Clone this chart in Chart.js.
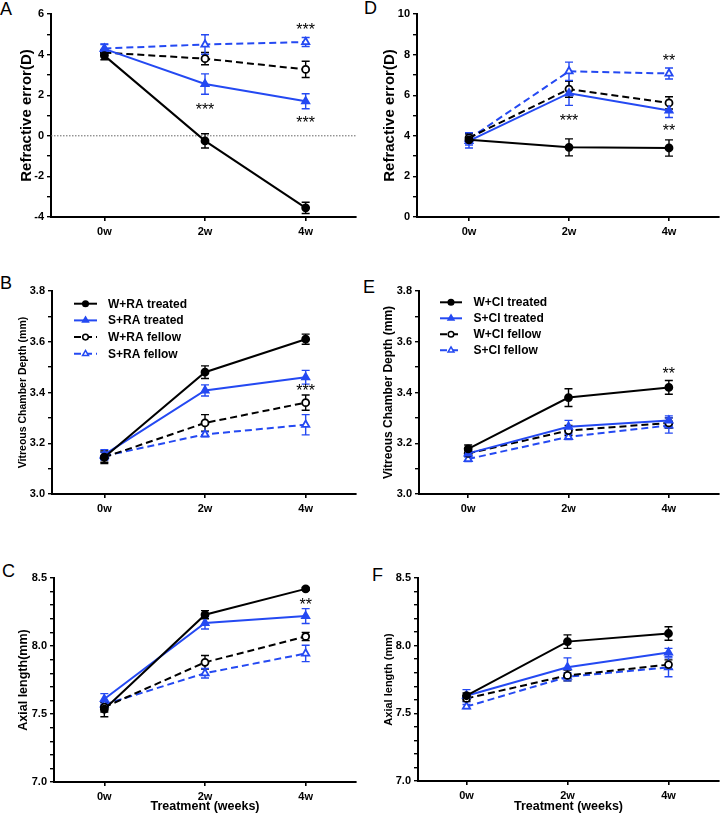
<!DOCTYPE html>
<html lang="en">
<head>
<meta charset="UTF-8" />
<title>Refraction and ocular biometry - RA / CI groups</title>
<script src="https://cdn.jsdelivr.net/npm/chart.js@4"></script>
<style>
    html, body { margin: 0; padding: 0; background: #fff; }
    body { width: 725px; height: 813px; position: relative; overflow: hidden;
           font-family: "Liberation Sans", Arial, sans-serif; }
    .panel { position: absolute; }
    .letter { position: absolute; font-size: 18px; line-height: 18px; color: #000; }
</style>
</head>
<body>
<!-- panel letters -->
<div class="letter" style="left:0px;top:0px">A</div>
<div class="letter" style="left:0px;top:274px">B</div>
<div class="letter" style="left:2px;top:562px">C</div>
<div class="letter" style="left:364px;top:-1px">D</div>
<div class="letter" style="left:363px;top:278px">E</div>
<div class="letter" style="left:372px;top:566px">F</div>

<div class="panel" style="left:0;top:0;width:362px;height:255px"><canvas id="chartA"></canvas></div>
<div class="panel" style="left:362px;top:0;width:363px;height:255px"><canvas id="chartD"></canvas></div>
<div class="panel" style="left:0;top:255px;width:362px;height:270px"><canvas id="chartB"></canvas></div>
<div class="panel" style="left:362px;top:255px;width:363px;height:270px"><canvas id="chartE"></canvas></div>
<div class="panel" style="left:0;top:525px;width:362px;height:288px"><canvas id="chartC"></canvas></div>
<div class="panel" style="left:362px;top:525px;width:363px;height:288px"><canvas id="chartF"></canvas></div>

<script>
    const weeks = ['0w', '2w', '4w'];
    const groupsRA = ['W+RA treated', 'S+RA treated', 'W+RA fellow', 'S+RA fellow'];
    const groupsCI = ['W+CI treated', 'S+CI treated', 'W+CI fellow', 'S+CI fellow'];

    // rows follow the group order: W treated, S treated, W fellow, S fellow
    // A - refractive error (D), RA
    const refractionRA = [
        [3.95, -0.25, -3.55],
        [4.28, 2.55, 1.70],
        [4.10, 3.80, 3.27],
        [4.30, 4.50, 4.62]
    ];
    const refractionRASem = [
        [0.20, 0.35, 0.28],
        [0.25, 0.50, 0.37],
        [0.15, 0.30, 0.40],
        [0.20, 0.48, 0.22]
    ];

    // D - refractive error (D), CI
    const refractionCI = [
        [3.80, 3.43, 3.40],
        [3.75, 6.10, 5.25],
        [3.90, 6.30, 5.62],
        [3.85, 7.18, 7.07]
    ];
    const refractionCISem = [
        [0.15, 0.42, 0.40],
        [0.35, 0.60, 0.35],
        [0.20, 0.40, 0.30],
        [0.30, 0.45, 0.27]
    ];

    // B - vitreous chamber depth (mm), RA
    const vcdRA = [
        [3.145, 3.480, 3.610],
        [3.155, 3.408, 3.460],
        [3.145, 3.280, 3.360],
        [3.150, 3.235, 3.273]
    ];
    const vcdRASem = [
        [0.020, 0.025, 0.020],
        [0.020, 0.022, 0.027],
        [0.025, 0.033, 0.030],
        [0.015, 0.010, 0.040]
    ];

    // E - vitreous chamber depth (mm), CI
    const vcdCI = [
        [3.178, 3.380, 3.420],
        [3.160, 3.265, 3.290],
        [3.160, 3.250, 3.280],
        [3.138, 3.225, 3.270]
    ];
    const vcdCISem = [
        [0.015, 0.035, 0.027],
        [0.012, 0.025, 0.018],
        [0.012, 0.020, 0.020],
        [0.010, 0.010, 0.030]
    ];

    // C - axial length (mm), RA
    const axialRA = [
        [7.535, 8.230, 8.420],
        [7.610, 8.170, 8.220],
        [7.550, 7.880, 8.070],
        [7.570, 7.800, 7.945]
    ];
    const axialRASem = [
        [0.055, 0.030, 0.010],
        [0.040, 0.045, 0.055],
        [0.035, 0.050, 0.030],
        [0.020, 0.035, 0.060]
    ];

    // F - axial length (mm), CI
    const axialCI = [
        [7.630, 8.030, 8.090],
        [7.630, 7.840, 7.950],
        [7.610, 7.780, 7.860],
        [7.550, 7.770, 7.840]
    ];
    const axialCISem = [
        [0.020, 0.050, 0.050],
        [0.045, 0.070, 0.030],
        [0.020, 0.040, 0.035],
        [0.015, 0.030, 0.070]
    ];

    // significance marks: [week index, value, mark]
    const starsRefractionRA = [[2, 5.43, '***'], [1, 1.49, '***'], [2, 0.84, '***']];
    const starsRefractionCI = [[2, 7.88, '**'], [1, 4.94, '***'], [2, 4.41, '**']];
    const starsVcdRA = [[2, 3.42, '***']];
    const starsVcdCI = [[2, 3.49, '**']];
    const starsAxialRA = [[2, 8.33, '**']];

    const BLACK = '#000000';
    const BLUE = '#2449f2';
    const FONT = '"Liberation Sans", Arial, sans-serif';

    const styles = [
        { color: BLACK, dash: [], point: 'circle', fill: BLACK, r: 3.5 },
        { color: BLUE, dash: [], point: 'triangle', fill: BLUE, r: 4.2 },
        { color: BLACK, dash: [7, 4], point: 'circle', fill: '#ffffff', r: 3.5 },
        { color: BLUE, dash: [7, 4], point: 'triangle', fill: '#ffffff', r: 4.2 }
    ];

    function drawMarker(ctx, st, x, y, r) {
        ctx.save();
        ctx.setLineDash([]);
        ctx.fillStyle = st.fill;
        ctx.strokeStyle = st.color;
        ctx.lineWidth = 1.5;
        ctx.beginPath();
        if (st.point === 'circle') {
            ctx.arc(x, y, r, 0, Math.PI * 2);
        } else {
            ctx.moveTo(x, y - r);
            ctx.lineTo(x + r * 0.87, y + r * 0.5);
            ctx.lineTo(x - r * 0.87, y + r * 0.5);
            ctx.closePath();
        }
        ctx.fill();
        ctx.stroke();
        ctx.restore();
    }

    // SEM error bars, drawn under the markers
    const errorBars = {
        id: 'errorBars',
        beforeDatasetsDraw(chart) {
            const ctx = chart.ctx;
            const ys = chart.scales.y;
            chart.data.datasets.forEach((ds, i) => {
                const meta = chart.getDatasetMeta(i);
                ctx.save();
                ctx.strokeStyle = ds.borderColor;
                ctx.lineWidth = 1.4;
                meta.data.forEach((pt, j) => {
                    const v = ds.data[j].y, e = ds.sem[j];
                    const top = ys.getPixelForValue(v + e);
                    const bot = ys.getPixelForValue(v - e);
                    ctx.beginPath();
                    ctx.moveTo(pt.x, top);
                    ctx.lineTo(pt.x, bot);
                    ctx.moveTo(pt.x - 4, top);
                    ctx.lineTo(pt.x + 4, top);
                    ctx.moveTo(pt.x - 4, bot);
                    ctx.lineTo(pt.x + 4, bot);
                    ctx.stroke();
                });
                ctx.restore();
            });
        }
    };

    // dotted reference line (0 D)
    const refLine = {
        id: 'refLine',
        beforeDatasetsDraw(chart, args, opts) {
            if (opts.value === undefined || opts.value === null) return;
            const ctx = chart.ctx, a = chart.chartArea;
            const y = chart.scales.y.getPixelForValue(opts.value);
            ctx.save();
            ctx.strokeStyle = '#666';
            ctx.lineWidth = 1;
            ctx.setLineDash([1.5, 1.5]);
            ctx.beginPath();
            ctx.moveTo(a.left, y);
            ctx.lineTo(a.right, y);
            ctx.stroke();
            ctx.restore();
        }
    };

    const starMarks = {
        id: 'starMarks',
        afterDatasetsDraw(chart, args, opts) {
            if (!opts.items) return;
            const ctx = chart.ctx;
            ctx.save();
            ctx.fillStyle = '#000';
            ctx.font = '16px ' + FONT;
            ctx.textAlign = 'center';
            ctx.textBaseline = 'alphabetic';
            opts.items.forEach(([wk, val, mark]) => {
                const x = chart.scales.x.getPixelForValue(wk);
                const y = chart.scales.y.getPixelForValue(val);
                ctx.fillText(mark, x, y + 9);
            });
            ctx.restore();
        }
    };

    // legend with a line sample and marker, as in the original
    const lineLegend = {
        id: 'lineLegend',
        afterDraw(chart, args, opts) {
            if (opts.x === undefined) return;
            const ctx = chart.ctx;
            chart.data.datasets.forEach((ds, i) => {
                const st = styles[i];
                const y = opts.y + i * opts.gap;
                ctx.save();
                ctx.strokeStyle = st.color;
                ctx.lineWidth = 2;
                ctx.setLineDash(st.dash);
                ctx.beginPath();
                ctx.moveTo(opts.x, y);
                ctx.lineTo(opts.x + opts.w, y);
                ctx.stroke();
                ctx.restore();
                drawMarker(ctx, st, opts.x + opts.w / 2, y, st.point === 'circle' ? 2.8 : 3.4);
                ctx.save();
                ctx.fillStyle = '#000';
                ctx.font = 'bold 12px ' + FONT;
                ctx.textBaseline = 'middle';
                ctx.fillText(ds.label, opts.textX, y + 0.5);
                ctx.restore();
            });
        }
    };

    function makePanel(p) {
        const datasets = p.values.map((row, i) => ({
            label: p.groups[i],
            data: row.map((v, j) => ({ x: j, y: v })),
            sem: p.sem[i],
            borderColor: styles[i].color,
            borderWidth: 2,
            borderDash: styles[i].dash,
            pointStyle: styles[i].point,
            pointRadius: styles[i].r,
            pointBackgroundColor: styles[i].fill,
            pointBorderColor: styles[i].color,
            pointBorderWidth: 1.8,
            tension: 0,
            fill: false
        }));

        const yTicks = [];
        const n = Math.round((p.yMax - p.yMin) / p.minor);
        for (let k = 0; k <= n; k++) yTicks.push(+(p.yMin + k * p.minor).toFixed(4));

        new Chart(document.getElementById(p.id), {
            type: 'line',
            data: { datasets },
            plugins: [errorBars, refLine, starMarks, lineLegend],
            options: {
                responsive: true,
                maintainAspectRatio: false,
                animation: false,
                layout: { padding: { left: 0, top: p.top, right: p.padRight, bottom: 0 } },
                plugins: {
                    legend: { display: false },
                    tooltip: { enabled: false },
                    refLine: { value: p.refLine },
                    starMarks: { items: p.stars },
                    lineLegend: p.legend || {}
                },
                scales: {
                    x: {
                        type: 'linear',
                        min: p.xMin,
                        max: 2.5,
                        afterBuildTicks: (s) => { s.ticks = weeks.map((w, i) => ({ value: i })); },
                        afterFit: (s) => { s.height = p.height - p.bottom; },
                        ticks: {
                            callback: (v) => weeks[v],
                            color: '#000',
                            font: { family: FONT, size: 11, weight: 'bold' },
                            padding: 4,
                            maxRotation: 0,
                            autoSkip: false
                        },
                        grid: { display: true, drawOnChartArea: false, drawTicks: true,
                                tickLength: 4, tickColor: '#000', lineWidth: 1.6 },
                        border: { display: true, color: '#000', width: 2 },
                        title: {
                            display: !!p.xTitle,
                            text: p.xTitle || '',
                            color: '#000',
                            font: { family: FONT, size: 12.5, weight: 'bold', lineHeight: 1 },
                            padding: { top: 0, bottom: 0 }
                        }
                    },
                    y: {
                        min: p.yMin,
                        max: p.yMax,
                        afterBuildTicks: (s) => { s.ticks = yTicks.map(v => ({ value: v })); },
                        afterFit: (s) => { s.width = p.axisLeft; },
                        ticks: {
                            callback: (v) => {
                                const q = v / p.major;
                                return Math.abs(q - Math.round(q)) < 1e-6 ? v.toFixed(p.decimals) : '';
                            },
                            color: '#000',
                            font: { family: FONT, size: 11, weight: 'bold' },
                            padding: 3,
                            autoSkip: false
                        },
                        grid: { display: true, drawOnChartArea: false, drawTicks: true,
                                tickLength: 4, tickColor: '#000', lineWidth: 1.4 },
                        border: { display: true, color: '#000', width: 2 },
                        title: {
                            display: true,
                            text: p.yTitle,
                            color: '#000',
                            font: { family: FONT, size: p.titleSize, weight: 'bold', lineHeight: 1.2 },
                            padding: { top: p.titleX - p.titleSize * 0.6, bottom: 0 }
                        }
                    }
                }
            }
        });
    }

    makePanel({ id: 'chartA', groups: groupsRA, values: refractionRA, sem: refractionRASem,
        yMin: -4, yMax: 6, minor: 1, major: 2, decimals: 0,
        yTitle: 'Refractive error(D)', titleSize: 15, titleX: 27,
        axisLeft: 51, top: 14, bottom: 217, height: 255, padRight: 2, xMin: -0.53,
        stars: starsRefractionRA, refLine: 0 });

    makePanel({ id: 'chartD', groups: groupsCI, values: refractionCI, sem: refractionCISem,
        yMin: 0, yMax: 10, minor: 1, major: 2, decimals: 0,
        yTitle: 'Refractive error(D)', titleSize: 15, titleX: 28,
        axisLeft: 55, top: 14, bottom: 217, height: 255, padRight: 0, xMin: -0.52,
        stars: starsRefractionCI });

    makePanel({ id: 'chartB', groups: groupsRA, values: vcdRA, sem: vcdRASem,
        yMin: 3.0, yMax: 3.8, minor: 0.1, major: 0.2, decimals: 1,
        yTitle: 'Vitreous Chamber Depth (mm)', titleSize: 10.5, titleX: 23,
        axisLeft: 52, top: 36, bottom: 239, height: 270, padRight: 2, xMin: -0.52,
        stars: starsVcdRA,
        legend: { x: 74, y: 48.7, gap: 16.7, w: 23, textX: 108 } });

    makePanel({ id: 'chartE', groups: groupsCI, values: vcdCI, sem: vcdCISem,
        yMin: 3.0, yMax: 3.8, minor: 0.1, major: 0.2, decimals: 1,
        yTitle: 'Vitreous Chamber Depth (mm)', titleSize: 12, titleX: 27,
        axisLeft: 57, top: 36, bottom: 239, height: 270, padRight: 0, xMin: -0.49,
        stars: starsVcdCI,
        legend: { x: 78, y: 47.3, gap: 16, w: 22, textX: 111.5 } });

    makePanel({ id: 'chartC', groups: groupsRA, values: axialRA, sem: axialRASem,
        yMin: 7.0, yMax: 8.5, minor: 0.1, major: 0.5, decimals: 1,
        yTitle: 'Axial length(mm)', titleSize: 12.5, titleX: 24,
        axisLeft: 54, top: 53, bottom: 257, height: 288, padRight: 2, xMin: -0.5,
        stars: starsAxialRA, xTitle: 'Treatment (weeks)' });

    makePanel({ id: 'chartF', groups: groupsCI, values: axialCI, sem: axialCISem,
        yMin: 7.0, yMax: 8.5, minor: 0.1, major: 0.5, decimals: 1,
        yTitle: 'Axial length (mm)', titleSize: 11, titleX: 27,
        axisLeft: 56, top: 53, bottom: 256, height: 288, padRight: 0, xMin: -0.48,
        xTitle: 'Treatment (weeks)' });
</script>
</body>
</html>
